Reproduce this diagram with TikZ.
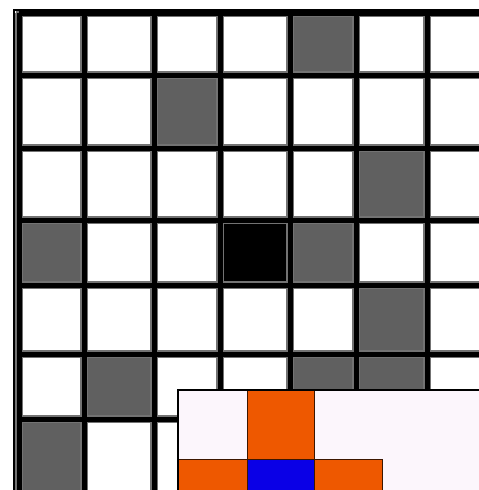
\documentclass[tikz,border=0pt]{standalone}
\usetikzlibrary{calc}
\definecolor{cellgray}{HTML}{606060}
\definecolor{insetbg}{HTML}{FCF6FC}
\definecolor{orng}{HTML}{EE5800}
\definecolor{blu}{HTML}{0A00E6}
\tikzset{
  gridhalo/.style={draw=black!55, line width=8pt},
  gridline/.style={draw=black, line width=5pt},
  frameline/.style={draw=black, line width=1.6pt},
  graycell/.style={fill=cellgray},
  blackcell/.style={fill=black},
  insetbox/.style={fill=insetbg, draw=black, line width=1.5pt},
  icell/.style={draw=black!75!orng, line width=1pt},
}
\begin{document}
\begin{tikzpicture}[x=1pt,y=-1pt]
\useasboundingbox (0,0) rectangle (479,490);
\fill[white] (0,0) rectangle (479,490);
% cell fills (column edges X, row edges Y)
\def\cx#1{\ifcase#1 19\or 84\or 154\or 220\or 290\or 356\or 427\or 495\fi}
\def\ry#1{\ifcase#1 13\or 75\or 148\or 220\or 285\or 354\or 419\or 495\fi}
\foreach \c/\r/\s in {4/0/graycell,2/1/graycell,5/2/graycell,0/3/graycell,3/3/blackcell,4/3/graycell,5/4/graycell,1/5/graycell,4/5/graycell,5/5/graycell,0/6/graycell}{
  \pgfmathtruncatemacro{\cn}{\c+1}
  \pgfmathtruncatemacro{\rn}{\r+1}
  \path[\s] (\cx{\c},\ry{\r}) rectangle (\cx{\cn},\ry{\rn});
}
% grid lines
\foreach \x in {19,84,154,220,290,356,427}{
  \path[gridhalo] (\x,13) -- (\x,495);
}
\foreach \y in {13,75,148,220,285,354,419}{
  \path[gridhalo] (16,\y) -- (495,\y);
}
\foreach \x in {19,84,154,220,290,356,427}{
  \path[gridline] (\x,13) -- (\x,495);
}
\foreach \y in {13,75,148,220,285,354,419}{
  \path[gridline] (19,\y) -- (495,\y);
}
% outer frame
\path[frameline] (14,495) -- (14,10) -- (495,10);
% inset
\path[insetbox] (178,390) rectangle (485,495);
\path[icell, fill=orng] (247,390) rectangle (314,459);
\path[icell, fill=orng] (178,459) rectangle (247,528);
\path[icell, fill=blu] (247,459) rectangle (314,528);
\path[icell, fill=orng] (314,459) rectangle (382,528);
\path[draw=black, line width=1.5pt] (178,495) -- (178,390) -- (485,390);
\end{tikzpicture}
\end{document}
